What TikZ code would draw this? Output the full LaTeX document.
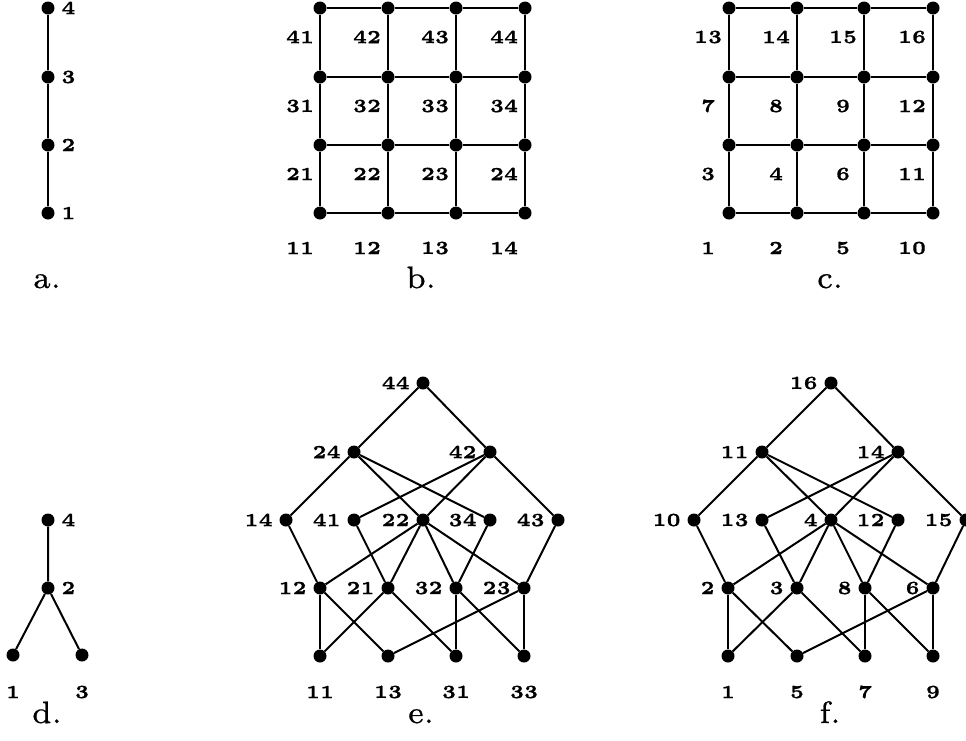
\documentclass[tikz,border=0pt]{standalone}
\usepackage{fontspec}
\newfontface\digf{lmroman5-bold.otf}[FakeBold=0.8]
\newfontface\capf{lmroman7-regular.otf}[FakeBold=0.6]
\begin{document}
\begin{tikzpicture}[x=1pt,y=-1pt,
  v/.style={circle,fill=black,inner sep=0pt,minimum size=13pt},
  lbl/.style={inner sep=0pt,font=\digf\fontsize{18.5}{20}\selectfont},
  capt/.style={inner sep=0pt,anchor=base,font=\capf\fontsize{31}{33}\selectfont},
  edge/.style={line width=2pt},
  label distance=6.5pt]
\useasboundingbox (0,0) rectangle (966,740);

% ---------- a ----------
\node[v,label={[lbl]right:4}] (a4) at (48,8) {};
\node[v,label={[lbl]right:3}] (a3) at (48,77) {};
\node[v,label={[lbl]right:2}] (a2) at (48,145) {};
\node[v,label={[lbl]right:1}] (a1) at (48,213) {};
\draw[edge] (a1) -- (a2) -- (a3) -- (a4);
\node[capt] (capa) at (47,288) {a.};

% ---------- b ----------
\foreach \c [count=\i] in {320,388,456,525} {
  \foreach \r [count=\j] in {213,145,77,8} {
    \node[v] (b\i\j) at (\c,\r) {};
  }
}
\foreach \i in {1,...,4} {
  \draw[edge] (b\i1) -- (b\i2) -- (b\i3) -- (b\i4);
  \draw[edge] (b1\i) -- (b2\i) -- (b3\i) -- (b4\i);
}
\foreach \c [count=\i] in {300,367,435,504} {
  \foreach \r [count=\j] in {248,174,106,37} {
    \node[lbl] (bl\i\j) at (\c,\r) {\j\i};
  }
}
\node[capt] (capb) at (421,288) {b.};

% ---------- c ----------
\foreach \c [count=\i] in {729,797,864,933} {
  \foreach \r [count=\j] in {213,145,77,8} {
    \node[v] (c\i\j) at (\c,\r) {};
  }
}
\foreach \i in {1,...,4} {
  \draw[edge] (c\i1) -- (c\i2) -- (c\i3) -- (c\i4);
  \draw[edge] (c1\i) -- (c2\i) -- (c3\i) -- (c4\i);
}
\foreach \x/\y/\t [count=\k] in {
  708/248/1, 776/248/2, 843/248/5, 912/248/10,
  708/174/3, 776/174/4, 843/174/6, 912/174/11,
  708/106/7, 776/106/8, 843/106/9, 912/106/12,
  708/37/13, 776/37/14, 843/37/15, 912/37/16} {
  \node[lbl] (cl\k) at (\x,\y) {\t};
}
\node[capt] (capc) at (830,288) {c.};

% ---------- d ----------
\node[v,label={[lbl]right:4}] (d4) at (48,520) {};
\node[v,label={[lbl]right:2}] (d2) at (48,588) {};
\node[v] (d1) at (13,655) {};
\node[v] (d3) at (82,655) {};
\draw[edge] (d4) -- (d2) -- (d1);
\draw[edge] (d2) -- (d3);
\node[lbl] (dl1) at (13,692) {1};
\node[lbl] (dl3) at (82,692) {3};
\node[capt] (capd) at (47,723) {d.};

% ---------- e ----------
\node[v,label={[lbl]left:44}] (e44) at (423,383) {};
\node[v,label={[lbl]left:24}] (e24) at (354,452) {};
\node[v,label={[lbl]left:42}] (e42) at (490,452) {};
\node[v,label={[lbl]left:14}] (e14) at (286,520) {};
\node[v,label={[lbl]left:41}] (e41) at (354,520) {};
\node[v,label={[lbl]left:22}] (e22) at (423,520) {};
\node[v,label={[lbl]left:34}] (e34) at (490,520) {};
\node[v,label={[lbl]left:43}] (e43) at (558,520) {};
\node[v,label={[lbl]left:12}] (e12) at (320,588) {};
\node[v,label={[lbl]left:21}] (e21) at (388,588) {};
\node[v,label={[lbl]left:32}] (e32) at (456,588) {};
\node[v,label={[lbl]left:23}] (e23) at (524,588) {};
\node[v] (e11) at (320,656) {};
\node[v] (e13) at (388,656) {};
\node[v] (e31) at (456,656) {};
\node[v] (e33) at (524,656) {};
\node[lbl] (el11) at (320,692) {11};
\node[lbl] (el13) at (388,692) {13};
\node[lbl] (el31) at (456,692) {31};
\node[lbl] (el33) at (524,692) {33};
\foreach \p/\q in {44/24,44/42,24/14,24/22,24/34,42/41,42/22,42/43,14/12,41/21,
  22/12,22/21,22/32,22/23,34/32,43/23,12/11,12/13,21/11,21/31,32/31,32/33,23/13,23/33}
  \draw[edge] (e\p) -- (e\q);
\node[capt] (cape) at (421,723) {e.};

% ---------- f ----------
\node[v,label={[lbl]left:16}] (f16) at (831,383) {};
\node[v,label={[lbl]left:11}] (f11) at (762,452) {};
\node[v,label={[lbl]left:14}] (f14) at (898,452) {};
\node[v,label={[lbl]left:10}] (f10) at (694,520) {};
\node[v,label={[lbl]left:13}] (f13) at (762,520) {};
\node[v,label={[lbl]left:4}] (f4) at (831,520) {};
\node[v,label={[lbl]left:12}] (f12) at (898,520) {};
\node[v,label={[lbl]left:15}] (f15) at (966,520) {};
\node[v,label={[lbl]left:2}] (f2) at (728,588) {};
\node[v,label={[lbl]left:3}] (f3) at (797,588) {};
\node[v,label={[lbl]left:8}] (f8) at (865,588) {};
\node[v,label={[lbl]left:6}] (f6) at (933,588) {};
\node[v] (f1) at (728,656) {};
\node[v] (f5) at (797,656) {};
\node[v] (f7) at (865,656) {};
\node[v] (f9) at (933,656) {};
\node[lbl] (fl1) at (728,692) {1};
\node[lbl] (fl5) at (797,692) {5};
\node[lbl] (fl7) at (865,692) {7};
\node[lbl] (fl9) at (933,692) {9};
\foreach \p/\q in {16/11,16/14,11/10,11/4,11/12,14/13,14/4,14/15,10/2,13/3,
  4/2,4/3,4/8,4/6,12/8,15/6,2/1,2/5,3/1,3/7,8/7,8/9,6/5,6/9}
  \draw[edge] (f\p) -- (f\q);
\node[capt] (capf) at (830,723) {f.};
\end{tikzpicture}
\end{document}
